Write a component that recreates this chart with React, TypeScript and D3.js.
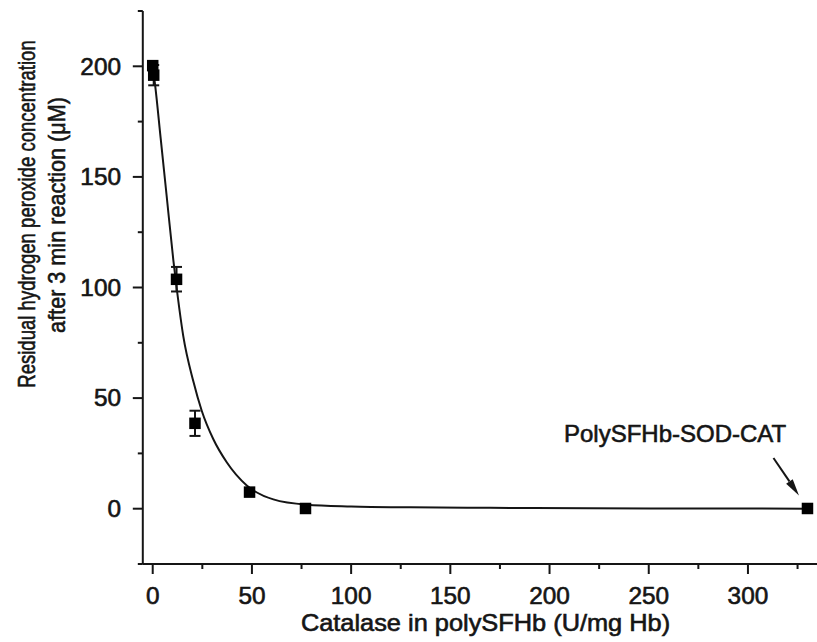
import React from "react";
import * as d3 from "d3";

// Measured points: catalase activity vs residual H2O2
const catalase = [0, 0.5, 12, 21.3, 48.8, 77, 330];
const residual = [200.3, 196, 103.7, 38.6, 7.5, 0.1, 0.1];
const errLow = [0, 4.6, 5.5, 5.7, 0, 0, 0];
const errHigh = [0, 4.6, 5.6, 5.7, 0, 0, 0];

// Fitted decay curve, sampled
const fitX = [0, 1.2, 4, 7, 10.4, 12.4, 15.4, 20.5, 24.7, 30.5, 37.3, 47.4, 60.8, 77.6, 100, 130, 170, 220, 280, 330];
const fitY = [200, 191.6, 167.5, 141.6, 112.3, 97.4, 78, 57.5, 44.3, 31.5, 21, 10.5, 4.2, 1.8, 1.0, 0.6, 0.4, 0.2, 0.1, 0];

const xMajor = [0, 50, 100, 150, 200, 250, 300];
const xMinor = [25, 75, 125, 175, 225, 275, 325];
const yMajor = [0, 50, 100, 150, 200];
const yMinor = [-25, 25, 75, 125, 175, 225];

const xTitle = "Catalase in polySFHb (U/mg Hb)";
const yTitle1 = "Residual hydrogen peroxide concentration";
const yTitle2 = "after 3 min reaction (\u03bcM)";
const annotation = "PolySFHb-SOD-CAT";

const FONT = "'Liberation Sans', Arial, Helvetica, sans-serif";
const INK = "#151515";

type LabelProps = {
  x: number;
  y: number;
  size: number;
  sx: number;
  rotate?: number;
  anchor?: "start" | "middle" | "end";
  children: React.ReactNode;
};

// Text with a horizontal stretch applied in its own frame
function Label({ x, y, size, sx, rotate = 0, anchor = "start", children }: LabelProps) {
  return (
    <g transform={`translate(${x},${y}) rotate(${rotate}) scale(${sx},1)`}>
      <text
        x={0}
        y={0}
        fontSize={size}
        textAnchor={anchor}
        fill={INK}
        stroke={INK}
        strokeWidth={0.6}
      >
        {children}
      </text>
    </g>
  );
}

export default function App() {
  const W = 817;
  const H = 642;
  const x = d3.scaleLinear().domain([-5, 335]).range([142.8, 817.4]);
  const y = d3.scaleLinear().domain([-25, 225]).range([564, 11]);

  const fitLine = d3
    .line<number>()
    .x((_, i) => x(fitX[i]))
    .y((d) => y(d))
    .curve(d3.curveMonotoneX);

  const sq = 11.5;
  const cap = 5.5;

  // arrow pointing at the last sample
  const lastX = x(catalase[catalase.length - 1]);
  const lastY = y(residual[residual.length - 1]);
  const tip = [lastX - 8.5, lastY - 13];
  const tail = [lastX - 34, lastY - 50.5];
  const ang = Math.atan2(tip[1] - tail[1], tip[0] - tail[0]);
  const headLen = 17;
  const headHalf = 4;
  const bx = tip[0] - headLen * Math.cos(ang);
  const by = tip[1] - headLen * Math.sin(ang);
  const px = -Math.sin(ang) * headHalf;
  const py = Math.cos(ang) * headHalf;

  const x0 = x.range()[0];
  const yBottom = y(-25);
  const tickSX = 1.06;

  return (
    <svg
      width={W}
      height={H}
      viewBox={`0 0 ${W} ${H}`}
      style={{ position: "absolute", left: 0, top: 0, background: "#fff" }}
      fontFamily={FONT}
    >
      <rect width={W} height={H} fill="#fff" />

      {/* axes */}
      <line x1={x0} x2={x0} y1={y(225)} y2={yBottom} stroke={INK} strokeWidth={2} />
      <line x1={x0} x2={W} y1={yBottom} y2={yBottom} stroke={INK} strokeWidth={2} />

      {yMajor.map((v) => (
        <g key={"ym" + v}>
          <line x1={x0 - 10} x2={x0} y1={y(v)} y2={y(v)} stroke={INK} strokeWidth={2} />
          <Label x={121} y={y(v) + 8.2} size={23} sx={tickSX} anchor="end">
            {v}
          </Label>
        </g>
      ))}
      {yMinor.map((v) => (
        <line key={"yn" + v} x1={x0 - 5} x2={x0} y1={y(v)} y2={y(v)} stroke={INK} strokeWidth={2} />
      ))}

      {xMajor.map((v) => (
        <g key={"xm" + v}>
          <line x1={x(v)} x2={x(v)} y1={yBottom} y2={yBottom + 10} stroke={INK} strokeWidth={2} />
          <Label x={x(v)} y={603.5} size={23} sx={tickSX} anchor="middle">
            {v}
          </Label>
        </g>
      ))}
      {xMinor.map((v) => (
        <line key={"xn" + v} x1={x(v)} x2={x(v)} y1={yBottom} y2={yBottom + 5} stroke={INK} strokeWidth={2} />
      ))}

      {/* axis titles */}
      <Label x={485.5} y={631} size={23.5} sx={1.08} anchor="middle">
        {xTitle}
      </Label>
      <Label x={35} y={214} size={23.5} sx={0.79} rotate={-90} anchor="middle">
        {yTitle1}
      </Label>
      <Label x={64.5} y={215} size={23.5} sx={0.92} rotate={-90} anchor="middle">
        {yTitle2}
      </Label>

      {/* fitted curve */}
      <path d={fitLine(fitY) || ""} fill="none" stroke={INK} strokeWidth={2} />

      {/* error bars */}
      {catalase.map((c, i) => {
        if (errLow[i] === 0 && errHigh[i] === 0) return null;
        const cx = x(c);
        const yl = y(residual[i] - errLow[i]);
        const yh = y(residual[i] + errHigh[i]);
        return (
          <g key={"e" + i} stroke={INK} strokeWidth={2}>
            <line x1={cx} x2={cx} y1={yl} y2={yh} />
            <line x1={cx - cap} x2={cx + cap} y1={yl} y2={yl} />
            <line x1={cx - cap} x2={cx + cap} y1={yh} y2={yh} />
          </g>
        );
      })}

      {/* samples */}
      {catalase.map((c, i) => (
        <rect
          key={"p" + i}
          x={x(c) - sq / 2}
          y={y(residual[i]) - sq / 2}
          width={sq}
          height={sq}
          fill="#000"
        />
      ))}

      {/* annotation */}
      <Label x={564} y={442} size={24} sx={1.0}>
        {annotation}
      </Label>
      <line x1={tail[0]} y1={tail[1]} x2={bx} y2={by} stroke={INK} strokeWidth={2} />
      <polygon
        points={`${tip[0]},${tip[1]} ${bx + px},${by + py} ${bx - px},${by - py}`}
        fill={INK}
      />
    </svg>
  );
}
